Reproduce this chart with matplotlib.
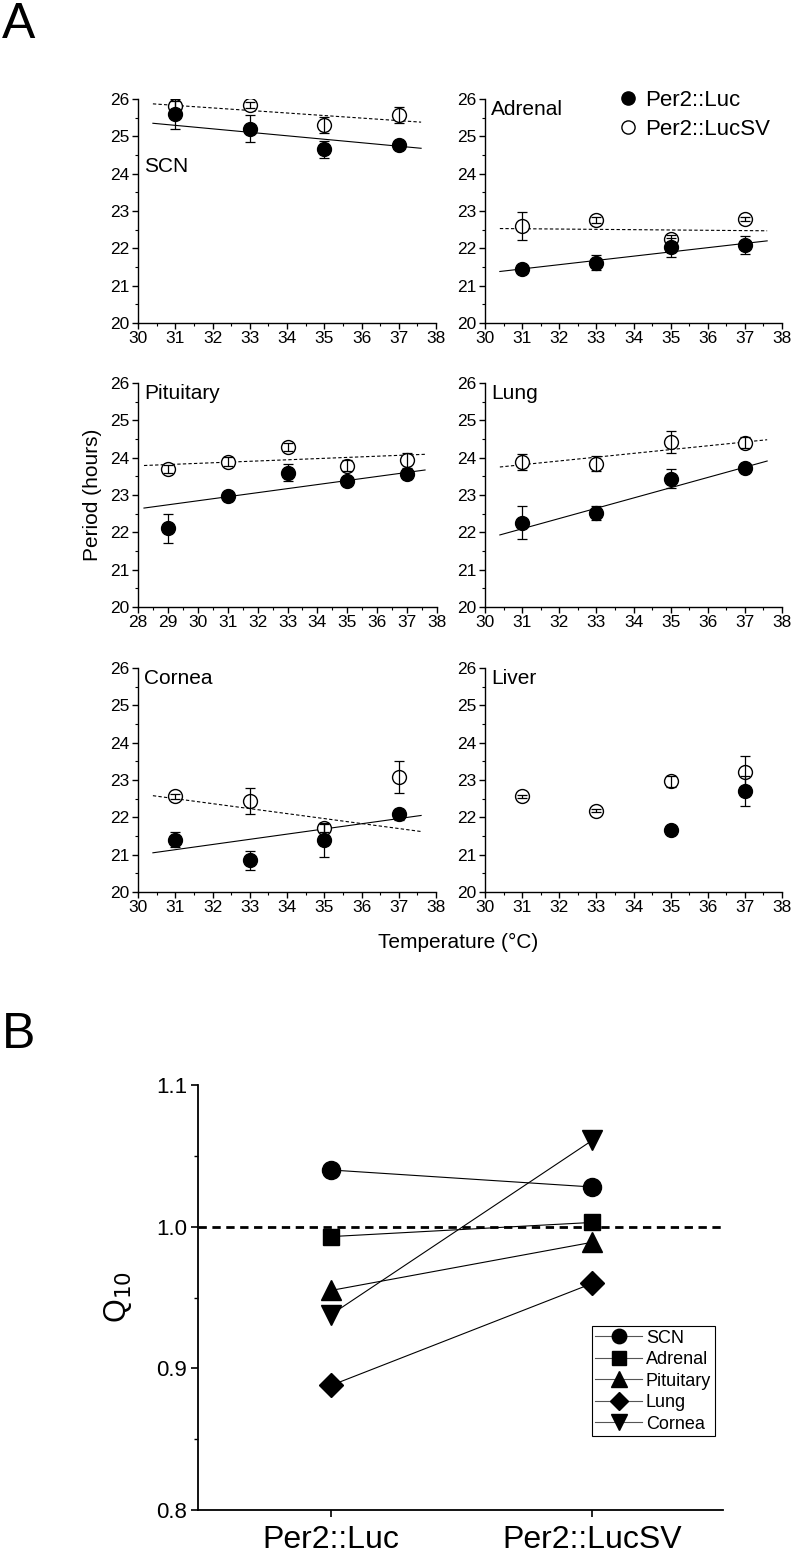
import numpy as np
import matplotlib.pyplot as plt
from matplotlib.ticker import MultipleLocator

plt.rcParams['font.family'] = ['Liberation Sans', 'DejaVu Sans']

# ---- Panel A data (period in hours, mean and error) ----
temps = [31, 33, 35, 37]
pit_temps = [29, 31, 33, 35, 37]
liver_luc_temps = [35, 37]

scn_luc = [25.6, 25.2, 24.65, 24.78]
scn_luc_err = [0.4, 0.36, 0.22, 0.1]
scn_sv = [25.8, 25.85, 25.3, 25.57]
scn_sv_err = [0.15, 0.08, 0.22, 0.22]

adr_luc = [21.45, 21.62, 22.03, 22.09]
adr_luc_err = [0.08, 0.2, 0.25, 0.25]
adr_sv = [22.59, 22.77, 22.25, 22.79]
adr_sv_err = [0.37, 0.08, 0.12, 0.05]

pit_luc = [22.11, 22.96, 23.6, 23.38, 23.55]
pit_luc_err = [0.39, 0.12, 0.22, 0.07, 0.12]
pit_sv = [23.7, 23.89, 24.28, 23.79, 23.93]
pit_sv_err = [0.1, 0.12, 0.1, 0.15, 0.2]

lung_luc = [22.26, 22.51, 23.44, 23.73]
lung_luc_err = [0.45, 0.19, 0.26, 0.05]
lung_sv = [23.88, 23.84, 24.42, 24.4]
lung_sv_err = [0.21, 0.2, 0.3, 0.15]

cor_luc = [21.4, 20.85, 21.4, 22.08]
cor_luc_err = [0.2, 0.25, 0.45, 0.15]
cor_sv = [22.56, 22.43, 21.71, 23.08]
cor_sv_err = [0.07, 0.35, 0.1, 0.44]

liver_luc = [21.65, 22.71]
liver_luc_err = [0.05, 0.4]
liver_sv = [22.56, 22.18, 22.96, 23.21]
liver_sv_err = [0.05, 0.05, 0.15, 0.42]

# regression line end points
fit_x = [30.4, 37.6]
pit_fit_x = [28.2, 37.6]
scn_fit_luc, scn_fit_sv = [25.35, 24.68], [25.87, 25.38]
adr_fit_luc, adr_fit_sv = [21.38, 22.2], [22.53, 22.47]
pit_fit_luc, pit_fit_sv = [22.65, 23.67], [23.79, 24.09]
lung_fit_luc, lung_fit_sv = [21.93, 23.91], [23.75, 24.48]
cor_fit_luc, cor_fit_sv = [21.05, 22.05], [22.58, 21.62]

# ---- Panel B data (Q10) ----
genotypes = ['Per2::Luc', 'Per2::LucSV']
tissues = ['SCN', 'Adrenal', 'Pituitary', 'Lung', 'Cornea']
q10_luc = [1.040, 0.993, 0.955, 0.888, 0.938]
q10_sv = [1.028, 1.003, 0.989, 0.960, 1.061]
tissue_markers = ['o', 's', '^', 'D', 'v']

fig = plt.figure(figsize=(8, 15.55), dpi=100)
W, H = 800, 1555


def ax_at(x0, x1, y0, y1):
    # pixel box -> figure fraction
    return fig.add_axes([x0 / W, 1 - y1 / H, (x1 - x0) / W, (y1 - y0) / H])


def panel(ax, t, luc, luc_err, sv, sv_err, name, t_luc=None,
          fx=None, fl=None, fs=None, xlim=(30, 38), name_y=0.955):
    if t_luc is None:
        t_luc = t
    if fx is not None:
        ax.plot(fx, fl, color='black', lw=0.8, zorder=1)
        ax.plot(fx, fs, color='black', lw=0.8, ls=(0, (3, 2)), zorder=1)
    ax.errorbar(t, sv, yerr=sv_err, fmt='none', ecolor='black', elinewidth=0.9,
                capsize=3.5, capthick=0.9, zorder=3)
    ax.plot(t, sv, 'o', ms=10, mfc='white', mec='black', mew=1.0, ls='none',
            zorder=2, label='Per2::LucSV')
    ax.errorbar(t_luc, luc, yerr=luc_err, fmt='none', ecolor='black',
                elinewidth=0.9, capsize=3.5, capthick=0.9, zorder=3)
    ax.plot(t_luc, luc, 'o', ms=10, mfc='black', mec='black', ls='none',
            zorder=4, label='Per2::Luc')
    ax.set_xlim(*xlim)
    ax.set_ylim(20, 26)
    ax.xaxis.set_major_locator(MultipleLocator(1))
    ax.xaxis.set_minor_locator(MultipleLocator(0.5))
    ax.yaxis.set_major_locator(MultipleLocator(1))
    ax.yaxis.set_minor_locator(MultipleLocator(0.5))
    for s in ['top', 'right']:
        ax.spines[s].set_visible(False)
    for s in ['left', 'bottom']:
        ax.spines[s].set_linewidth(1.0)
    ax.tick_params(which='major', direction='out', length=4, width=1,
                   labelsize=12.5, pad=2)
    ax.tick_params(which='minor', direction='out', length=2.5, width=0.8)
    ax.text(0.02, name_y, name, transform=ax.transAxes, fontsize=15,
            va='center', ha='left')


ax1 = ax_at(138, 436, 99, 323)
panel(ax1, temps, scn_luc, scn_luc_err, scn_sv, scn_sv_err, 'SCN',
      fx=fit_x, fl=scn_fit_luc, fs=scn_fit_sv, name_y=0.70)

ax2 = ax_at(485, 782, 99, 323)
panel(ax2, temps, adr_luc, adr_luc_err, adr_sv, adr_sv_err, 'Adrenal',
      fx=fit_x, fl=adr_fit_luc, fs=adr_fit_sv)
h, l = ax2.get_legend_handles_labels()
ax2.legend(h[::-1], l[::-1], loc='upper left', bbox_to_anchor=(0.45, 1.04),
           frameon=False, fontsize=16, handlelength=0.8, handletextpad=0.4,
           labelspacing=0.35, borderpad=0, borderaxespad=0, markerscale=0.95)

ax3 = ax_at(138, 437, 383, 607)
panel(ax3, pit_temps, pit_luc, pit_luc_err, pit_sv, pit_sv_err, 'Pituitary',
      fx=pit_fit_x, fl=pit_fit_luc, fs=pit_fit_sv, xlim=(28, 38))

ax4 = ax_at(485, 782, 383, 607)
panel(ax4, temps, lung_luc, lung_luc_err, lung_sv, lung_sv_err, 'Lung',
      fx=fit_x, fl=lung_fit_luc, fs=lung_fit_sv)

ax5 = ax_at(138, 436, 668, 892)
panel(ax5, temps, cor_luc, cor_luc_err, cor_sv, cor_sv_err, 'Cornea',
      fx=fit_x, fl=cor_fit_luc, fs=cor_fit_sv)

ax6 = ax_at(485, 782, 668, 892)
panel(ax6, temps, liver_luc, liver_luc_err, liver_sv, liver_sv_err, 'Liver',
      t_luc=liver_luc_temps)

fig.text(92 / W, 1 - 495 / H, 'Period (hours)', rotation=90, fontsize=15,
         ha='center', va='center')
fig.text(458 / W, 1 - 942 / H, 'Temperature (\u00b0C)', fontsize=15,
         ha='center', va='center')

fig.text(2 / W, 1 - 2 / H, 'A', fontsize=36, ha='left', va='top')
fig.text(2 / W, 1 - 1012 / H, 'B', fontsize=36, ha='left', va='top')

# ---- Panel B ----
axb = ax_at(198, 723, 1085, 1510)
xpos = np.arange(len(genotypes))
axb.axhline(1.0, color='black', lw=2, ls=(0, (3, 2)), zorder=1)
marker_sizes = {'o': 13, 's': 12, '^': 14, 'D': 12, 'v': 14}
for name, m, a, b in zip(tissues, tissue_markers, q10_luc, q10_sv):
    axb.plot(xpos, [a, b], color='black', lw=0.8, marker=m,
             ms=marker_sizes[m], mfc='black', mec='black', label=name,
             zorder=3)
axb.set_xlim(-0.51, 1.5)
axb.set_ylim(0.8, 1.1)
axb.set_xticks(xpos)
axb.set_xticklabels(genotypes, fontsize=23)
axb.yaxis.set_major_locator(MultipleLocator(0.1))
axb.yaxis.set_minor_locator(MultipleLocator(0.05))
axb.yaxis.set_major_formatter(plt.FormatStrFormatter('%.1f'))
for s in ['top', 'right']:
    axb.spines[s].set_visible(False)
for s in ['left', 'bottom']:
    axb.spines[s].set_linewidth(1.3)
axb.tick_params(axis='y', which='major', direction='out', length=5, width=1.2,
                labelsize=16, pad=3)
axb.tick_params(axis='y', which='minor', direction='out', length=3, width=1)
axb.tick_params(axis='x', which='major', direction='out', length=5, width=1.2,
                pad=6)
axb.set_ylabel('Q$_{10}$', fontsize=22, labelpad=16)
leg = axb.legend(loc='upper left', bbox_to_anchor=(0.75, 0.433), fontsize=13,
                 handlelength=2.6, handletextpad=0.2, labelspacing=0.25,
                 borderpad=0.2, borderaxespad=0, fancybox=False, framealpha=1,
                 markerscale=0.8)
leg.get_frame().set_edgecolor('black')
leg.get_frame().set_linewidth(0.8)
for ln in leg.get_lines():
    ln.set_color('#555555')
    ln.set_markerfacecolor('black')
    ln.set_markeredgecolor('black')

fig.savefig('out.png', dpi=100)
